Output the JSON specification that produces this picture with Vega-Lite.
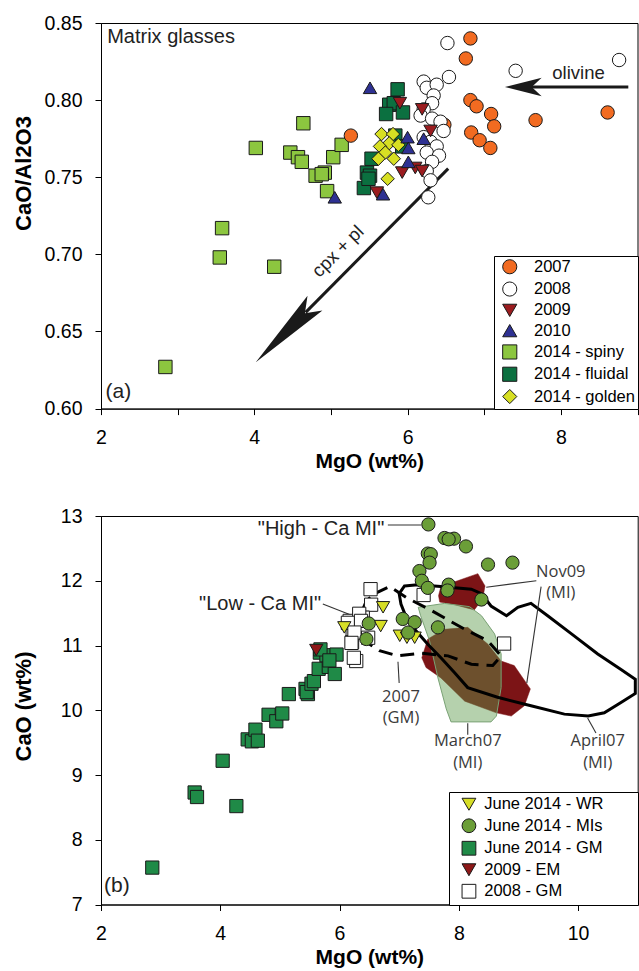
{
  "$schema": "https://vega.github.io/schema/vega-lite/v6.json",
  "padding": {"left": 11, "top": 12, "right": 2, "bottom": 2},
  "spacing": 33,
  "config": {
    "font": "Liberation Sans",
    "view": {"stroke": "black", "strokeWidth": 1},
    "axis": {"grid": false, "domainColor": "black", "tickColor": "black", "labelColor": "black", "titleColor": "black", "labelFont": "Liberation Sans", "labelFontSize": 19.5, "titleFont": "Liberation Sans", "titleFontWeight": "bold", "tickSize": 6, "labelFlush": false, "labelOverlap": false, "domainWidth": 1, "tickWidth": 1},
    "axisX": {"labelPadding": 14, "titleFontSize": 21, "titlePadding": 3},
    "axisY": {"labelPadding": 13, "titleFontSize": 22}
  },
  "resolve": {"scale": {"color": "independent", "shape": "independent", "x": "independent", "y": "independent"}, "legend": {"color": "independent", "shape": "independent"}},
  "datasets": {
    "top": [
      {"s": "2014 - spiny", "x": 4.64, "y": 0.785}, {"s": "2014 - spiny", "x": 4.02, "y": 0.769}, {"s": "2014 - spiny", "x": 4.47, "y": 0.766}, {"s": "2014 - spiny", "x": 4.57, "y": 0.763}, {"s": "2014 - spiny", "x": 4.62, "y": 0.760}, {"s": "2014 - spiny", "x": 4.80, "y": 0.751}, {"s": "2014 - spiny", "x": 4.92, "y": 0.753}, {"s": "2014 - spiny", "x": 4.88, "y": 0.752}, {"s": "2014 - spiny", "x": 4.95, "y": 0.741}, {"s": "2014 - spiny", "x": 5.03, "y": 0.763}, {"s": "2014 - spiny", "x": 5.14, "y": 0.771}, {"s": "2014 - spiny", "x": 3.58, "y": 0.717}, {"s": "2014 - spiny", "x": 3.55, "y": 0.698}, {"s": "2014 - spiny", "x": 4.26, "y": 0.692}, {"s": "2014 - spiny", "x": 2.84, "y": 0.627},
      {"s": "2014 - fluidal", "x": 5.87, "y": 0.807}, {"s": "2014 - fluidal", "x": 5.76, "y": 0.797}, {"s": "2014 - fluidal", "x": 5.82, "y": 0.798}, {"s": "2014 - fluidal", "x": 5.72, "y": 0.791}, {"s": "2014 - fluidal", "x": 5.94, "y": 0.792}, {"s": "2014 - fluidal", "x": 5.47, "y": 0.753}, {"s": "2014 - fluidal", "x": 5.51, "y": 0.751}, {"s": "2014 - fluidal", "x": 5.43, "y": 0.743}, {"s": "2014 - fluidal", "x": 5.53, "y": 0.762}, {"s": "2014 - fluidal", "x": 5.84, "y": 0.777}, {"s": "2014 - fluidal", "x": 5.93, "y": 0.770}, {"s": "2014 - fluidal", "x": 5.49, "y": 0.749},
      {"s": "2007", "x": 6.82, "y": 0.840}, {"s": "2007", "x": 6.76, "y": 0.827}, {"s": "2007", "x": 6.82, "y": 0.800}, {"s": "2007", "x": 6.90, "y": 0.796}, {"s": "2007", "x": 7.09, "y": 0.791}, {"s": "2007", "x": 7.13, "y": 0.783}, {"s": "2007", "x": 6.83, "y": 0.779}, {"s": "2007", "x": 6.94, "y": 0.774}, {"s": "2007", "x": 7.08, "y": 0.769}, {"s": "2007", "x": 7.67, "y": 0.787}, {"s": "2007", "x": 8.61, "y": 0.792}, {"s": "2007", "x": 6.48, "y": 0.784}, {"s": "2007", "x": 5.26, "y": 0.777},
      {"s": "2008", "x": 6.52, "y": 0.837}, {"s": "2008", "x": 7.41, "y": 0.819}, {"s": "2008", "x": 8.76, "y": 0.826}, {"s": "2008", "x": 6.54, "y": 0.815}, {"s": "2008", "x": 6.21, "y": 0.812}, {"s": "2008", "x": 6.25, "y": 0.808}, {"s": "2008", "x": 6.38, "y": 0.810}, {"s": "2008", "x": 6.34, "y": 0.803}, {"s": "2008", "x": 6.32, "y": 0.798}, {"s": "2008", "x": 6.21, "y": 0.794}, {"s": "2008", "x": 6.17, "y": 0.790}, {"s": "2008", "x": 6.32, "y": 0.788}, {"s": "2008", "x": 6.43, "y": 0.786}, {"s": "2008", "x": 6.47, "y": 0.780}, {"s": "2008", "x": 6.21, "y": 0.776}, {"s": "2008", "x": 6.30, "y": 0.773}, {"s": "2008", "x": 6.38, "y": 0.770}, {"s": "2008", "x": 6.25, "y": 0.766}, {"s": "2008", "x": 6.41, "y": 0.764}, {"s": "2008", "x": 6.32, "y": 0.760}, {"s": "2008", "x": 6.25, "y": 0.754}, {"s": "2008", "x": 6.30, "y": 0.748}, {"s": "2008", "x": 6.27, "y": 0.737},
      {"s": "2014 - golden", "x": 5.66, "y": 0.778}, {"s": "2014 - golden", "x": 5.81, "y": 0.778}, {"s": "2014 - golden", "x": 5.76, "y": 0.772}, {"s": "2014 - golden", "x": 5.64, "y": 0.770}, {"s": "2014 - golden", "x": 5.88, "y": 0.771}, {"s": "2014 - golden", "x": 5.71, "y": 0.766}, {"s": "2014 - golden", "x": 5.62, "y": 0.762}, {"s": "2014 - golden", "x": 5.82, "y": 0.762}, {"s": "2014 - golden", "x": 5.74, "y": 0.749},
      {"s": "2009", "x": 6.19, "y": 0.794}, {"s": "2009", "x": 5.90, "y": 0.798}, {"s": "2009", "x": 6.30, "y": 0.780}, {"s": "2009", "x": 5.93, "y": 0.753}, {"s": "2009", "x": 6.10, "y": 0.756}, {"s": "2009", "x": 6.19, "y": 0.754}, {"s": "2009", "x": 5.60, "y": 0.740},
      {"s": "2010", "x": 5.51, "y": 0.808}, {"s": "2010", "x": 6.00, "y": 0.776}, {"s": "2010", "x": 6.21, "y": 0.775}, {"s": "2010", "x": 6.01, "y": 0.769}, {"s": "2010", "x": 6.01, "y": 0.760}, {"s": "2010", "x": 5.68, "y": 0.739}, {"s": "2010", "x": 5.05, "y": 0.737}
    ],
    "bot": [
      {"t": "June 2014 - GM", "x": 2.86, "y": 7.57}, {"t": "June 2014 - GM", "x": 3.57, "y": 8.73}, {"t": "June 2014 - GM", "x": 3.61, "y": 8.66}, {"t": "June 2014 - GM", "x": 4.27, "y": 8.52}, {"t": "June 2014 - GM", "x": 4.04, "y": 9.22}, {"t": "June 2014 - GM", "x": 4.46, "y": 9.55}, {"t": "June 2014 - GM", "x": 4.53, "y": 9.52}, {"t": "June 2014 - GM", "x": 4.59, "y": 9.70}, {"t": "June 2014 - GM", "x": 4.63, "y": 9.53}, {"t": "June 2014 - GM", "x": 4.81, "y": 9.93}, {"t": "June 2014 - GM", "x": 4.94, "y": 9.83}, {"t": "June 2014 - GM", "x": 5.04, "y": 9.95}, {"t": "June 2014 - GM", "x": 5.15, "y": 10.25}, {"t": "June 2014 - GM", "x": 5.43, "y": 10.33}, {"t": "June 2014 - GM", "x": 5.47, "y": 10.25}, {"t": "June 2014 - GM", "x": 5.45, "y": 10.28}, {"t": "June 2014 - GM", "x": 5.53, "y": 10.41}, {"t": "June 2014 - GM", "x": 5.57, "y": 10.45}, {"t": "June 2014 - GM", "x": 5.65, "y": 10.64}, {"t": "June 2014 - GM", "x": 5.82, "y": 10.67}, {"t": "June 2014 - GM", "x": 5.92, "y": 10.56}, {"t": "June 2014 - GM", "x": 5.67, "y": 10.89}, {"t": "June 2014 - GM", "x": 5.78, "y": 10.85}, {"t": "June 2014 - GM", "x": 5.95, "y": 10.86}, {"t": "June 2014 - GM", "x": 5.68, "y": 10.94}, {"t": "June 2014 - GM", "x": 5.83, "y": 10.77},
      {"t": "2009 - EM", "x": 5.61, "y": 10.93},
      {"t": "2008 - GM", "x": 6.52, "y": 11.87}, {"t": "2008 - GM", "x": 6.53, "y": 11.63}, {"t": "2008 - GM", "x": 7.41, "y": 11.78}, {"t": "2008 - GM", "x": 8.76, "y": 11.03}, {"t": "2008 - GM", "x": 6.17, "y": 11.38}, {"t": "2008 - GM", "x": 6.22, "y": 11.22}, {"t": "2008 - GM", "x": 6.21, "y": 11.05}, {"t": "2008 - GM", "x": 6.28, "y": 10.76}, {"t": "2008 - GM", "x": 6.24, "y": 10.81}, {"t": "2008 - GM", "x": 6.39, "y": 11.43}, {"t": "2008 - GM", "x": 6.33, "y": 11.49}, {"t": "2008 - GM", "x": 6.14, "y": 11.35}, {"t": "2008 - GM", "x": 6.36, "y": 11.38}, {"t": "2008 - GM", "x": 6.25, "y": 11.20}, {"t": "2008 - GM", "x": 6.20, "y": 11.04}, {"t": "2008 - GM", "x": 6.48, "y": 11.12},
      {"t": "June 2014 - WR", "x": 6.73, "y": 11.59}, {"t": "June 2014 - WR", "x": 6.08, "y": 11.28}, {"t": "June 2014 - WR", "x": 6.69, "y": 11.30}, {"t": "June 2014 - WR", "x": 7.01, "y": 11.15}, {"t": "June 2014 - WR", "x": 7.13, "y": 11.12}, {"t": "June 2014 - WR", "x": 7.26, "y": 11.12},
      {"t": "June 2014 - MIs", "x": 7.49, "y": 12.87}, {"t": "June 2014 - MIs", "x": 7.76, "y": 12.66}, {"t": "June 2014 - MIs", "x": 7.92, "y": 12.65}, {"t": "June 2014 - MIs", "x": 7.83, "y": 12.64}, {"t": "June 2014 - MIs", "x": 8.12, "y": 12.53}, {"t": "June 2014 - MIs", "x": 7.48, "y": 12.42}, {"t": "June 2014 - MIs", "x": 7.53, "y": 12.41}, {"t": "June 2014 - MIs", "x": 7.51, "y": 12.28}, {"t": "June 2014 - MIs", "x": 7.34, "y": 12.15}, {"t": "June 2014 - MIs", "x": 8.49, "y": 12.25}, {"t": "June 2014 - MIs", "x": 8.90, "y": 12.28}, {"t": "June 2014 - MIs", "x": 7.38, "y": 12.00}, {"t": "June 2014 - MIs", "x": 7.48, "y": 11.89}, {"t": "June 2014 - MIs", "x": 7.83, "y": 11.94}, {"t": "June 2014 - MIs", "x": 7.81, "y": 11.85}, {"t": "June 2014 - MIs", "x": 8.38, "y": 11.71}, {"t": "June 2014 - MIs", "x": 7.06, "y": 11.41}, {"t": "June 2014 - MIs", "x": 7.26, "y": 11.36}, {"t": "June 2014 - MIs", "x": 7.15, "y": 11.20}, {"t": "June 2014 - MIs", "x": 7.65, "y": 11.28}, {"t": "June 2014 - MIs", "x": 6.49, "y": 11.34}, {"t": "June 2014 - MIs", "x": 6.45, "y": 11.10}
    ],
    "poly": [
      {"p": "nov09a", "o": 1, "x": 7.66, "y": 11.77}, {"p": "nov09a", "o": 2, "x": 7.70, "y": 11.91}, {"p": "nov09a", "o": 3, "x": 7.98, "y": 12.00}, {"p": "nov09a", "o": 4, "x": 8.32, "y": 12.11}, {"p": "nov09a", "o": 5, "x": 8.44, "y": 11.92}, {"p": "nov09a", "o": 6, "x": 8.40, "y": 11.72}, {"p": "nov09a", "o": 7, "x": 8.26, "y": 11.55}, {"p": "nov09a", "o": 8, "x": 7.93, "y": 11.63}, {"p": "nov09a", "o": 9, "x": 7.68, "y": 11.67},
      {"p": "nov09b", "o": 1, "x": 7.38, "y": 10.81}, {"p": "nov09b", "o": 2, "x": 7.48, "y": 11.10}, {"p": "nov09b", "o": 3, "x": 7.76, "y": 11.25}, {"p": "nov09b", "o": 4, "x": 8.15, "y": 11.28}, {"p": "nov09b", "o": 5, "x": 8.49, "y": 11.02}, {"p": "nov09b", "o": 6, "x": 8.71, "y": 10.76}, {"p": "nov09b", "o": 7, "x": 8.93, "y": 10.69}, {"p": "nov09b", "o": 8, "x": 9.20, "y": 10.33}, {"p": "nov09b", "o": 9, "x": 9.10, "y": 10.07}, {"p": "nov09b", "o": 10, "x": 8.88, "y": 9.91}, {"p": "nov09b", "o": 11, "x": 8.63, "y": 9.96}, {"p": "nov09b", "o": 12, "x": 8.10, "y": 10.14}, {"p": "nov09b", "o": 13, "x": 7.70, "y": 10.50}, {"p": "nov09b", "o": 14, "x": 7.45, "y": 10.66},
      {"p": "mar07", "o": 1, "x": 7.32, "y": 11.59}, {"p": "mar07", "o": 2, "x": 7.76, "y": 11.65}, {"p": "mar07", "o": 3, "x": 8.18, "y": 11.60}, {"p": "mar07", "o": 4, "x": 8.38, "y": 11.46}, {"p": "mar07", "o": 5, "x": 8.60, "y": 11.18}, {"p": "mar07", "o": 6, "x": 8.71, "y": 10.87}, {"p": "mar07", "o": 7, "x": 8.71, "y": 10.35}, {"p": "mar07", "o": 8, "x": 8.63, "y": 9.91}, {"p": "mar07", "o": 9, "x": 8.54, "y": 9.82}, {"p": "mar07", "o": 10, "x": 7.87, "y": 9.82}, {"p": "mar07", "o": 11, "x": 7.79, "y": 10.02}, {"p": "mar07", "o": 12, "x": 7.65, "y": 10.50}, {"p": "mar07", "o": 13, "x": 7.51, "y": 11.07}, {"p": "mar07", "o": 14, "x": 7.36, "y": 11.46},
      {"p": "apr07", "o": 1, "x": 7.09, "y": 11.92}, {"p": "apr07", "o": 2, "x": 7.31, "y": 11.94}, {"p": "apr07", "o": 3, "x": 7.70, "y": 11.91}, {"p": "apr07", "o": 4, "x": 8.21, "y": 11.87}, {"p": "apr07", "o": 5, "x": 8.38, "y": 11.80}, {"p": "apr07", "o": 6, "x": 8.54, "y": 11.61}, {"p": "apr07", "o": 7, "x": 8.80, "y": 11.46}, {"p": "apr07", "o": 8, "x": 8.99, "y": 11.59}, {"p": "apr07", "o": 9, "x": 9.21, "y": 11.65}, {"p": "apr07", "o": 10, "x": 9.49, "y": 11.46}, {"p": "apr07", "o": 11, "x": 9.89, "y": 11.18}, {"p": "apr07", "o": 12, "x": 10.33, "y": 10.87}, {"p": "apr07", "o": 13, "x": 10.72, "y": 10.63}, {"p": "apr07", "o": 14, "x": 10.96, "y": 10.48}, {"p": "apr07", "o": 15, "x": 10.96, "y": 10.26}, {"p": "apr07", "o": 16, "x": 10.72, "y": 10.12}, {"p": "apr07", "o": 17, "x": 10.44, "y": 9.96}, {"p": "apr07", "o": 18, "x": 10.17, "y": 9.91}, {"p": "apr07", "o": 19, "x": 9.77, "y": 9.94}, {"p": "apr07", "o": 20, "x": 9.21, "y": 10.07}, {"p": "apr07", "o": 21, "x": 8.65, "y": 10.20}, {"p": "apr07", "o": 22, "x": 8.15, "y": 10.35}, {"p": "apr07", "o": 23, "x": 7.93, "y": 10.58}, {"p": "apr07", "o": 24, "x": 7.70, "y": 10.81}, {"p": "apr07", "o": 25, "x": 7.48, "y": 11.02}, {"p": "apr07", "o": 26, "x": 7.26, "y": 11.25}, {"p": "apr07", "o": 27, "x": 7.12, "y": 11.43}, {"p": "apr07", "o": 28, "x": 7.03, "y": 11.64}, {"p": "apr07", "o": 29, "x": 7.00, "y": 11.80},
      {"p": "gm07", "o": 1, "x": 6.59, "y": 11.80}, {"p": "gm07", "o": 2, "x": 6.84, "y": 11.91}, {"p": "gm07", "o": 3, "x": 7.12, "y": 11.74}, {"p": "gm07", "o": 4, "x": 7.54, "y": 11.54}, {"p": "gm07", "o": 5, "x": 8.10, "y": 11.25}, {"p": "gm07", "o": 6, "x": 8.49, "y": 11.07}, {"p": "gm07", "o": 7, "x": 8.71, "y": 10.84}, {"p": "gm07", "o": 8, "x": 8.57, "y": 10.69}, {"p": "gm07", "o": 9, "x": 8.21, "y": 10.71}, {"p": "gm07", "o": 10, "x": 7.82, "y": 10.84}, {"p": "gm07", "o": 11, "x": 7.37, "y": 10.88}, {"p": "gm07", "o": 12, "x": 6.98, "y": 10.84}, {"p": "gm07", "o": 13, "x": 6.67, "y": 10.92}, {"p": "gm07", "o": 14, "x": 6.42, "y": 11.07}, {"p": "gm07", "o": 15, "x": 6.31, "y": 11.23}, {"p": "gm07", "o": 16, "x": 6.36, "y": 11.49}, {"p": "gm07", "o": 17, "x": 6.45, "y": 11.69}
    ]
  },
  "vconcat": [
    {
      "width": 536.5,
      "height": 385.6,
      "encoding": {
        "x": {"field": "x", "type": "quantitative", "scale": {"domain": [2, 9], "nice": false, "zero": false}, "axis": {"title": "MgO (wt%)", "values": [2, 3, 4, 5, 6, 7, 8, 9], "labelExpr": "datum.value % 2 === 0 ? datum.label : ''"}},
        "y": {"field": "y", "type": "quantitative", "scale": {"domain": [0.6, 0.85], "nice": false, "zero": false}, "axis": {"title": "CaO/Al2O3", "values": [0.6, 0.65, 0.7, 0.75, 0.8, 0.85], "format": ".2f", "titleX": -78, "titleY": 150, "titleBaseline": "middle"}}
      },
      "layer": [
        {
          "data": {"values": [{"x": 7.58, "y": 0.8085, "x2": 8.88}]},
          "mark": {"type": "rule", "strokeWidth": 3.2, "color": "#1a1a1a"},
          "encoding": {"x2": {"field": "x2"}}
        },
        {
          "data": {"values": [{"x": 7.27, "y": 0.8085}]},
          "mark": {"type": "point", "shape": "M0,0L0.25,1L0,0.73L-0.25,1Z", "size": 5400, "angle": 270, "filled": true, "color": "#1a1a1a", "opacity": 1},
          "encoding": {}
        },
        {
          "data": {"values": [{"x": 4.67, "y": 0.6624, "x2": 6.53, "y2": 0.7556}]},
          "mark": {"type": "rule", "strokeWidth": 3, "color": "#1a1a1a"},
          "encoding": {"x2": {"field": "x2"}, "y2": {"field": "y2"}}
        },
        {
          "data": {"values": [{"x": 4.02, "y": 0.630}]},
          "mark": {"type": "point", "shape": "M0,0L0.126,1L0,0.83L-0.126,1Z", "size": 28000, "angle": 225, "filled": true, "color": "#1a1a1a", "opacity": 1},
          "encoding": {}
        },
        {
          "data": {"values": [{"x": 8.23, "y": 0.8177, "label": "olivine"}]},
          "mark": {"type": "text", "fontSize": 18.5, "align": "center", "baseline": "middle", "color": "#222"},
          "encoding": {"text": {"field": "label"}}
        },
        {
          "data": {"values": [{"x": 5.09, "y": 0.702, "label": "cpx + pl"}]},
          "mark": {"type": "text", "fontSize": 18.5, "align": "center", "baseline": "middle", "angle": -45, "color": "#222"},
          "encoding": {"text": {"field": "label"}}
        },
        {
          "data": {"values": [{"x": 2.08, "y": 0.837, "label": "Matrix glasses"}]},
          "mark": {"type": "text", "fontSize": 20, "align": "left", "baseline": "alphabetic", "color": "#222"},
          "encoding": {"text": {"field": "label"}}
        },
        {
          "data": {"values": [{"x": 2.06, "y": 0.611, "label": "(a)"}]},
          "mark": {"type": "text", "fontSize": 21, "align": "left", "baseline": "middle", "color": "#222"},
          "encoding": {"text": {"field": "label"}}
        },
        {
          "data": {"name": "top"},
          "mark": {"type": "point", "filled": true, "stroke": "#1a1a1a", "strokeWidth": 1, "size": 180, "opacity": 1},
          "encoding": {
            "color": {"field": "s", "type": "nominal", "scale": {"domain": ["2007", "2008", "2009", "2010", "2014 - spiny", "2014 - fluidal", "2014 - golden"], "range": ["#f26b21", "#ffffff", "#9b1c1f", "#2e3192", "#8cc63f", "#0b7040", "#d7df23"]},
              "legend": {"title": null, "orient": "bottom-right", "offset": 0, "padding": 2.5, "symbolOffset": 5, "labelOffset": 16, "rowPadding": 3.3, "labelFont": "Liberation Sans", "labelFontSize": 16.5, "labelColor": "black", "symbolSize": 200, "strokeColor": "black", "fillColor": "white", "symbolStrokeColor": "#1a1a1a", "symbolStrokeWidth": 1}},
            "shape": {"field": "s", "type": "nominal", "scale": {"domain": ["2007", "2008", "2009", "2010", "2014 - spiny", "2014 - fluidal", "2014 - golden"], "range": ["circle", "circle", "triangle-down", "triangle-up", "square", "square", "diamond"]}}
          }
        }
      ]
    },
    {
      "width": 536.7,
      "height": 388.5,
      "encoding": {
        "x": {"field": "x", "type": "quantitative", "scale": {"domain": [2, 11], "nice": false, "zero": false}, "axis": {"title": "MgO (wt%)", "values": [2, 4, 6, 8, 10]}},
        "y": {"field": "y", "type": "quantitative", "scale": {"domain": [7, 13], "nice": false, "zero": false}, "axis": {"title": "CaO (wt%)", "values": [7, 8, 9, 10, 11, 12, 13], "titleX": -78, "titleY": 190, "titleBaseline": "middle"}}
      },
      "layer": [
        {
          "data": {"name": "poly"},
          "transform": [{"filter": "datum.p === 'nov09a' || datum.p === 'nov09b'"}],
          "mark": {"type": "line", "interpolate": "linear-closed", "fill": "#7c1416", "stroke": "#7c1416", "strokeWidth": 0.5},
          "encoding": {"detail": {"field": "p"}, "order": {"field": "o", "type": "quantitative"}}
        },
        {
          "data": {"name": "poly"},
          "transform": [{"filter": "datum.p === 'mar07'"}],
          "mark": {"type": "line", "interpolate": "linear-closed", "fill": "#5a9a4a", "fillOpacity": 0.45, "stroke": "#7aa275", "strokeWidth": 1},
          "encoding": {"order": {"field": "o", "type": "quantitative"}}
        },
        {
          "data": {"name": "poly"},
          "transform": [{"filter": "datum.p === 'apr07'"}],
          "mark": {"type": "line", "interpolate": "linear-closed", "stroke": "black", "strokeWidth": 3},
          "encoding": {"order": {"field": "o", "type": "quantitative"}}
        },
        {
          "data": {"name": "poly"},
          "transform": [{"filter": "datum.p === 'gm07'"}],
          "mark": {"type": "line", "interpolate": "linear-closed", "stroke": "black", "strokeWidth": 3, "strokeDash": [14, 8]},
          "encoding": {"order": {"field": "o", "type": "quantitative"}}
        },
        {
          "data": {"values": [
            {"x": 6.81, "y": 12.86, "x2": 7.37, "y2": 12.86},
            {"x": 5.72, "y": 11.64, "x2": 6.33, "y2": 11.42},
            {"x": 6.98, "y": 10.75, "x2": 7.00, "y2": 10.42},
            {"x": 8.15, "y": 9.80, "x2": 8.15, "y2": 9.62},
            {"x": 10.16, "y": 9.88, "x2": 10.30, "y2": 9.65},
            {"x": 9.30, "y": 12.00, "x2": 8.46, "y2": 11.90},
            {"x": 9.38, "y": 11.91, "x2": 9.14, "y2": 10.42}
          ]},
          "mark": {"type": "rule", "color": "#333", "strokeWidth": 1.1},
          "encoding": {"x2": {"field": "x2"}, "y2": {"field": "y2"}}
        },
        {
          "data": {"values": [
            {"x": 6.75, "y": 12.80, "label": "\"High - Ca MI\""},
            {"x": 5.69, "y": 11.64, "label": "\"Low - Ca MI\""}
          ]},
          "mark": {"type": "text", "fontSize": 20, "align": "right", "baseline": "middle", "color": "#222"},
          "encoding": {"text": {"field": "label"}}
        },
        {
          "data": {"values": [
            {"x": 7.03, "y": 10.21, "label": "2007"}, {"x": 7.03, "y": 9.88, "label": "(GM)"},
            {"x": 8.15, "y": 9.52, "label": "March07"}, {"x": 8.15, "y": 9.18, "label": "(MI)"},
            {"x": 10.33, "y": 9.52, "label": "April07"}, {"x": 10.33, "y": 9.18, "label": "(MI)"},
            {"x": 9.71, "y": 12.14, "label": "Nov09"}, {"x": 9.71, "y": 11.81, "label": "(MI)"}
          ]},
          "mark": {"type": "text", "font": "Open Sans", "fontSize": 16.5, "align": "center", "baseline": "middle", "color": "#3a3a3a"},
          "encoding": {"text": {"field": "label"}}
        },
        {
          "data": {"values": [{"x": 2.05, "y": 7.28, "label": "(b)"}]},
          "mark": {"type": "text", "fontSize": 21, "align": "left", "baseline": "middle", "color": "#222"},
          "encoding": {"text": {"field": "label"}}
        },
        {
          "data": {"name": "bot"},
          "mark": {"type": "point", "filled": true, "stroke": "#1a1a1a", "strokeWidth": 1, "size": 175, "opacity": 1},
          "encoding": {
            "color": {"field": "t", "type": "nominal", "scale": {"domain": ["June 2014 - WR", "June 2014 - MIs", "June 2014 - GM", "2009 - EM", "2008 - GM"], "range": ["#d6de26", "#6b9e38", "#1f8a47", "#8e1818", "#ffffff"]},
              "legend": {"title": null, "orient": "bottom-right", "offset": 0, "padding": 4, "symbolOffset": 7.7, "labelOffset": 7, "rowPadding": 3.5, "labelFont": "Liberation Sans", "labelFontSize": 16.5, "labelColor": "black", "symbolSize": 190, "strokeColor": "black", "fillColor": "white", "symbolStrokeColor": "#1a1a1a", "symbolStrokeWidth": 1, "labelExpr": "datum.label + '\u00a0\u00a0\u00a0\u00a0\u2800'"}},
            "shape": {"field": "t", "type": "nominal", "scale": {"domain": ["June 2014 - WR", "June 2014 - MIs", "June 2014 - GM", "2009 - EM", "2008 - GM"], "range": ["triangle-down", "circle", "square", "triangle-down", "square"]}}
          }
        }
      ]
    }
  ]
}
